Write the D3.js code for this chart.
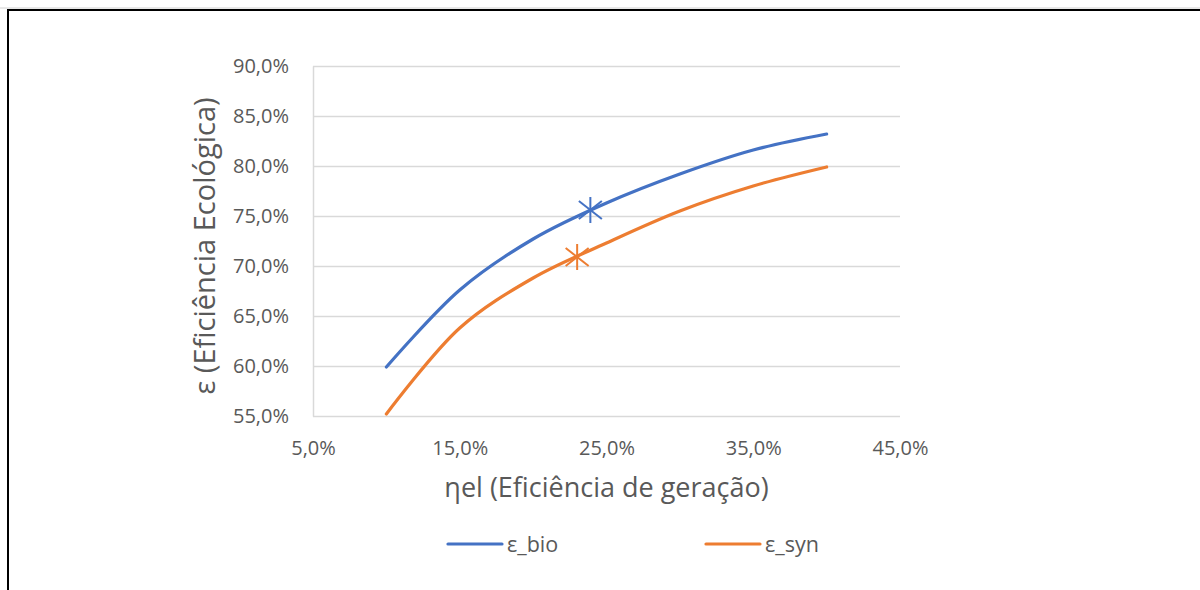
<!DOCTYPE html>
<html>
<head>
<meta charset="utf-8">
<script src="https://cdn.jsdelivr.net/npm/d3@7"></script>
<style>
  body { margin: 0; background: #fff; }
  text { font-family: "Open Sans", "Noto Sans", sans-serif; fill: #595959; }
</style>
</head>
<body>
<div id="chart"></div>
<script>
// efficiency of generation (x) and ecological efficiency (y), in %
const etaEl = [10, 15, 20, 25, 30, 35, 40];
const epsBio = [59.9, 67.6, 72.7, 76.3, 79.2, 81.6, 83.2];
const epsSyn = [55.2, 63.8, 68.8, 72.3, 75.5, 78.0, 79.9];
// star markers (operating points)
const bioPoint = [23.9, 75.6];
const synPoint = [23.0, 70.9];
const xTicks = [5, 15, 25, 35, 45];
const yTicks = [55, 60, 65, 70, 75, 80, 85, 90];

const width = 1200, height = 590;
const margin = {top: 66, right: 300, bottom: 174, left: 313};
const graphWidth = width - margin.left - margin.right;
const graphHeight = height - margin.top - margin.bottom;

const svg = d3.select('#chart')
    .append('svg')
    .attr('width', width)
    .attr('height', height);

// chart frame
svg.append('line')
    .attr('x1', 0).attr('x2', width)
    .attr('y1', 8).attr('y2', 8)
    .attr('stroke', '#d0d0d0');
svg.append('rect')
    .attr('x', 8).attr('y', 10)
    .attr('width', width + 20).attr('height', height + 20)
    .attr('fill', 'none')
    .attr('stroke', '#000')
    .attr('stroke-width', 2);

const graph = svg.append('g')
    .attr('transform', `translate(${margin.left}, ${margin.top})`);

const x = d3.scaleLinear().domain([5, 45]).range([0, graphWidth]);
const y = d3.scaleLinear().domain([55, 90]).range([graphHeight, 0]);

const fmt = d => d.toFixed(1).replace('.', ',') + '%';

// y axis with gridlines
const yAxisGroup = graph.append('g')
    .call(d3.axisLeft(y).tickValues(yTicks).tickSize(-graphWidth).tickSizeOuter(0).tickPadding(24).tickFormat(fmt));
yAxisGroup.selectAll('line').attr('stroke', '#d9d9d9').attr('stroke-width', 1.5);
yAxisGroup.select('.domain').attr('stroke', '#d9d9d9').attr('stroke-width', 1.5);
yAxisGroup.selectAll('text').style('font-size', '20px').attr('fill', '#595959');

// x axis (labels only)
const xAxisGroup = graph.append('g')
    .attr('transform', `translate(0, ${graphHeight})`)
    .call(d3.axisBottom(x).tickValues(xTicks).tickSize(0).tickPadding(25).tickFormat(fmt));
xAxisGroup.select('.domain').remove();
xAxisGroup.selectAll('text').style('font-size', '20px').attr('fill', '#595959');

const line = d3.line()
    .x((d, i) => x(etaEl[i]))
    .y(d => y(d))
    .curve(d3.curveCatmullRom.alpha(0.5));

const series = [
    {name: 'ε_bio', values: epsBio, point: bioPoint, color: '#4472C4'},
    {name: 'ε_syn', values: epsSyn, point: synPoint, color: '#ED7D31'}
];

series.forEach(s => {
    graph.append('path')
        .datum(s.values)
        .attr('d', line)
        .attr('fill', 'none')
        .attr('stroke', s.color)
        .attr('stroke-width', 3.2)
        .attr('stroke-linecap', 'round');

    // asterisk marker
    const cx = x(s.point[0]), cy = y(s.point[1]);
    const star = graph.append('g').attr('transform', `translate(${cx}, ${cy})`);
    [[0, -13, 0, 13], [-11.5, -9, 11.5, 9], [-11.5, 9, 11.5, -9]].forEach(l => {
        star.append('line')
            .attr('x1', l[0]).attr('y1', l[1]).attr('x2', l[2]).attr('y2', l[3])
            .attr('stroke', s.color)
            .attr('stroke-width', 2);
    });
});

// axis titles
svg.append('text')
    .attr('x', margin.left + graphWidth / 2)
    .attr('y', 497)
    .attr('text-anchor', 'middle')
    .style('font-size', '27px')
    .text('ηel (Eficiência de geração)');

svg.append('text')
    .attr('transform', `translate(215, ${margin.top + graphHeight / 2 + 5}) rotate(-90)`)
    .attr('text-anchor', 'middle')
    .style('font-size', '29px')
    .text('ε (Eficiência Ecológica)');

// legend
const legendX = [448, 706];
series.forEach((s, i) => {
    const lg = svg.append('g').attr('transform', `translate(${legendX[i]}, 544)`);
    lg.append('line')
        .attr('x1', 0).attr('x2', 54)
        .attr('stroke', s.color)
        .attr('stroke-width', 3.2)
        .attr('stroke-linecap', 'round');
    lg.append('text')
        .attr('x', 59)
        .attr('y', 8)
        .style('font-size', '21.5px')
        .text(s.name);
});
</script>
</body>
</html>
